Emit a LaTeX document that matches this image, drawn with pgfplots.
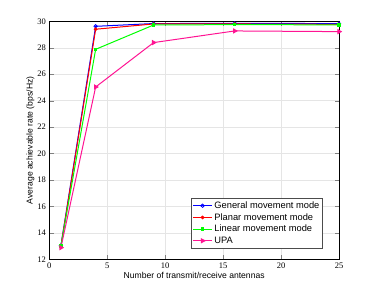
\documentclass[border=0pt]{standalone}
\usepackage{pgfplots}
\pgfplotsset{compat=1.18}
\usepackage{fontspec}
\setmainfont{Liberation Sans}
\newfontfamily\tickfont{Liberation Serif}
\definecolor{upa}{RGB}{255,20,147}
\begin{document}
\begin{tikzpicture}[x=1pt,y=1pt]
\useasboundingbox (0,0) rectangle (374,291);
\begin{axis}[
  at={(49.3pt,31.7pt)}, anchor=south west,
  scale only axis, width=289.7pt, height=238pt,
  xmin=0, xmax=25, ymin=12, ymax=30,
  xtick={0,5,10,15,20,25}, ytick={12,14,...,30},
  grid=major, major grid style={gray!20},
  tick align=inside, tick pos=both,
  tick label style={font=\tickfont\fontsize{8.5}{9}\selectfont},
  /pgf/number format/assume math mode=true,
  label style={font=\fontsize{8.6}{9}\selectfont},
  xlabel={Number of transmit/receive antennas},
  ylabel={Average achievable rate (bps/Hz)},
  xlabel style={yshift=3pt},
  ylabel style={yshift=-4pt},
  legend style={at={(0.944,0.047)}, anchor=south east, font=\fontsize{9.3}{10}\selectfont,
    draw=black!70, inner sep=1.2pt, row sep=-0.5pt},
  legend image post style={xscale=1.1},
  legend cell align=left,
  every axis plot/.append style={line width=1pt},
]
\addplot[blue, mark=o, mark size=1.7pt, mark options={line width=0.8pt}] coordinates {(1,13.03) (4,29.62) (9,29.83) (16,29.84) (25,29.83)};
\addlegendentry{General movement mode}
\addplot[red, mark=*, mark size=1.3pt] coordinates {(1,12.98) (4,29.4) (9,29.8) (16,29.8) (25,29.77)};
\addlegendentry{Planar movement mode}
\addplot[green, mark=square*, mark size=1.2pt] coordinates {(1,13.0) (4,27.88) (9,29.72) (16,29.75) (25,29.73)};
\addlegendentry{Linear movement mode}
\addplot[upa, mark=triangle*, mark size=2.2pt, mark options={rotate=-90}] coordinates {(1,12.88) (4,25.03) (9,28.39) (16,29.27) (25,29.22)};
\addlegendentry{UPA}
\end{axis}
\end{tikzpicture}
\end{document}
